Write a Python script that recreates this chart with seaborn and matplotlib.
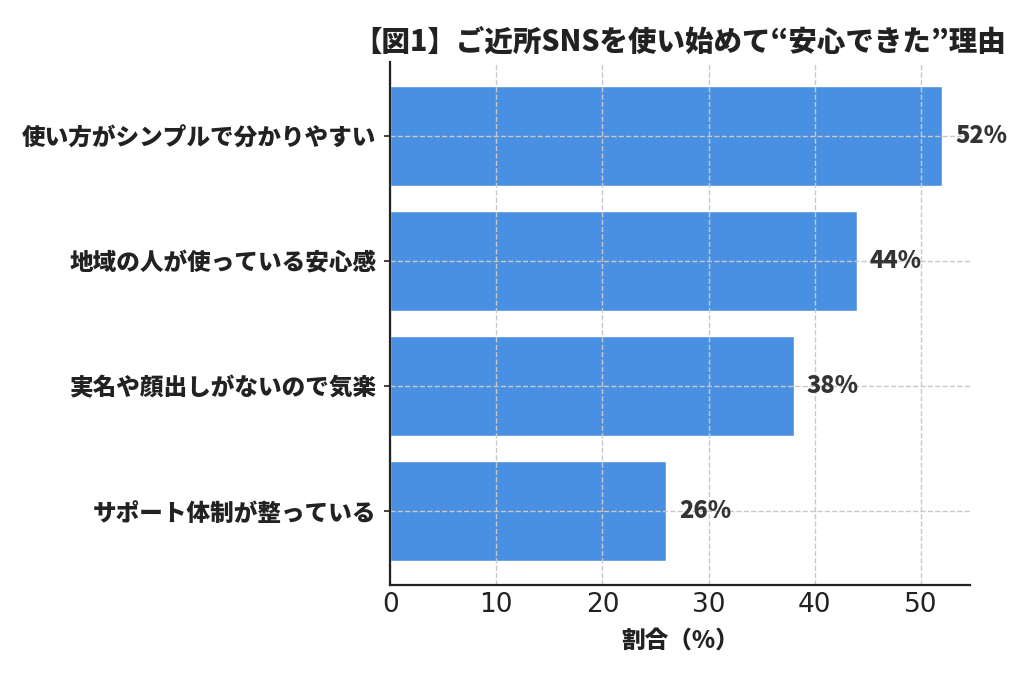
import pandas as pd
import seaborn as sns
import matplotlib.pyplot as plt

# Data
reasons = ['使い方がシンプルで分かりやすい', '地域の人が使っている安心感',
           '実名や顔出しがないので気楽', 'サポート体制が整っている']
percent = [52, 44, 38, 26]
df = pd.DataFrame({'理由': reasons, '割合': percent})

sns.set_style('ticks')
cjk = ['Noto Sans CJK JP', 'DejaVu Sans']

fig = plt.figure(figsize=(10.24, 6.83), dpi=100)
ax = fig.add_axes([0.381, 0.1435, 0.566, 0.766])

sns.barplot(data=df, x='割合', y='理由', color='#4A90E2', saturation=1,
            width=0.8, ax=ax)

# Dashed grid drawn over the bars
ax.set_axisbelow(False)
ax.grid(True, linestyle='--', color='#c8c8c8', linewidth=1)
sns.despine(ax=ax)
for s in ['left', 'bottom']:
    ax.spines[s].set_linewidth(1.6)
    ax.spines[s].set_color('#222222')
    ax.spines[s].set_zorder(4)

ax.set_xlim(0, 54.6)
ax.set_ylim(3.59, -0.59)
ax.tick_params(axis='x', labelsize=19, length=0, pad=5, labelcolor='#222222')
ax.tick_params(axis='y', length=4, width=1.2, color='#222222', pad=6)
for lbl in ax.get_yticklabels():
    lbl.set_fontfamily(cjk)
    lbl.set_fontweight('black')
    lbl.set_fontsize(17)
    lbl.set_color('#222222')

for i, v in enumerate(percent):
    ax.text(v + 1.2, i, f'{v}%', va='center', ha='left', fontsize=17,
            fontweight='black', family=cjk, color='#333333')

ax.set_ylabel('')
ax.set_xlabel('割合（%）', fontsize=17, fontweight='black', family=cjk,
              labelpad=7, color='#222222')
ax.set_title('【図1】ご近所SNSを使い始めて“安心できた”理由', fontsize=20.5,
             fontweight='black', family=cjk, pad=8, color='#222222')

fig.savefig('out.png', dpi=100)
